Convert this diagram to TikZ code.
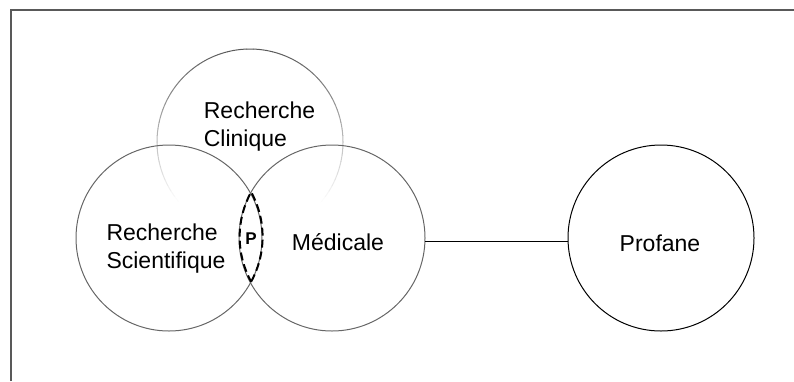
\documentclass[tikz,border=0pt]{standalone}
\usepackage{fontspec}
\setmainfont{Liberation Sans}
\begin{document}
\begin{tikzpicture}[x=1pt,y=1pt,
  venn/.style={circle, draw=black!60, line width=1pt, minimum size=186pt, inner sep=0pt, outer sep=0pt},
  lbl/.style={font=\fontsize{23}{28}\selectfont, align=left, inner sep=0pt},
  lens/.style={draw=black, line width=2pt, dash pattern=on 8pt off 4pt},
  frame/.style={draw=black!65, line width=2pt}]
\useasboundingbox (0,0) rectangle (794,-381);
\coordinate (fb) at (11,-381);
\coordinate (fc) at (11,-10);
\coordinate (fr) at (794,-10);
\draw[frame] (fb) -- (fc) -- (fr);
% Recherche Clinique circle, fading towards the bottom
\coordinate (cl) at (250,-142);
\foreach \a [evaluate=\a as \p using {max(0,min(65,65*(sin(\a+2)+0.65)/1.65))}] in {0,4,...,356} {
  \draw[draw=black!\p, line width=1pt, line cap=round] (cl) ++(\a:93pt) arc[start angle=\a, end angle=\a+4, radius=93pt];
}
\node[venn] (sci) at (169,-238) {};
\node[venn] (med) at (332,-238) {};
\node[venn, draw=black] (prof) at (661,-238) {};
\draw[lens] (sci.-28.8) arc[start angle=-28.8, end angle=28.8, radius=93pt]
  arc[start angle=151.2, end angle=208.8, radius=93pt] -- cycle;
\node[lbl] (tcl) at (259.5,-127) {Recherche\\Clinique};
\node[lbl] (tsci) at (166,-249) {Recherche\\Scientifique};
\node[lbl] (tmed) at (338,-242) {Médicale};
\node[lbl] (tprof) at (660,-243) {Profane};
\node[font=\fontsize{17}{20}\selectfont\bfseries, inner sep=0pt] (p) at (251,-239) {P};
\draw[black, line width=1pt] (med.-2.5) -- (prof.182.5);
\end{tikzpicture}
\end{document}
